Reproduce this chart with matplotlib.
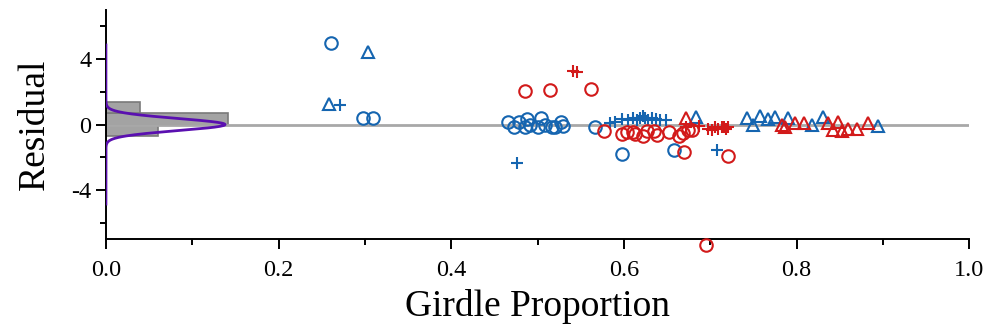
import numpy as np
import matplotlib.pyplot as plt
from matplotlib.ticker import MultipleLocator, FuncFormatter

# girdle proportion / residual pairs, grouped by colour and marker
blue_circle_x = [0.2607, 0.2978, 0.3094, 0.4658, 0.4728, 0.4786, 0.4855, 0.4878, 0.4913,
                 0.5006, 0.5041, 0.5087, 0.5168, 0.5203, 0.5272, 0.5296, 0.5666, 0.5979, 0.6582]
blue_circle_y = [4.98, 0.43, 0.37, 0.18, -0.12, 0.18, -0.18, 0.31, 0.0,
                 -0.18, 0.43, 0.0, -0.18, -0.12, 0.18, -0.06, -0.12, -1.78, -1.54]

blue_tri_x = [0.3036, 0.2584, 0.6837, 0.7428, 0.7497, 0.7578, 0.7671, 0.7752, 0.7903,
              0.8181, 0.8308, 0.8946]
blue_tri_y = [4.43, 1.23, 0.49, 0.43, 0.0, 0.55, 0.31, 0.49, 0.37, 0.0, 0.49, -0.06]

blue_plus_x = [0.2711, 0.4762, 0.7080, 0.5840, 0.5898, 0.5979, 0.6049, 0.6107, 0.6153,
               0.6188, 0.6223, 0.6246, 0.6280, 0.6327, 0.6373, 0.6419, 0.6489]
blue_plus_y = [1.17, -2.34, -1.54, 0.12, 0.18, 0.31, 0.25, 0.37, 0.25,
               0.43, 0.55, 0.37, 0.25, 0.37, 0.31, 0.25, 0.25]

red_circle_x = [0.4855, 0.5145, 0.5620, 0.5771, 0.5979, 0.6037, 0.6107, 0.6130, 0.6223,
                0.6269, 0.6350, 0.6385, 0.6524, 0.6640, 0.6686, 0.6744, 0.6790, 0.6698,
                0.7207, 0.6952]
red_circle_y = [2.03, 2.09, 2.15, -0.37, -0.55, -0.43, -0.43, -0.55, -0.68,
                -0.37, -0.37, -0.62, -0.43, -0.68, -0.49, -0.31, -0.31, -1.66,
                -1.91, -7.38]

red_plus_x = [0.5411, 0.5458, 0.6721, 0.6871, 0.6976, 0.7022, 0.7057, 0.7091, 0.7138,
              0.7161, 0.7184, 0.7207]
red_plus_y = [3.26, 3.20, -0.12, -0.06, -0.25, -0.31, -0.18, -0.25, -0.18, -0.12, -0.25, -0.12]

red_tri_x = [0.6721, 0.7833, 0.7868, 0.7984, 0.8088, 0.8366, 0.8424, 0.8482, 0.8528,
             0.8598, 0.8702, 0.8830]
red_tri_y = [0.43, 0.0, -0.18, 0.12, 0.12, 0.12, -0.31, 0.18, -0.37, -0.25, -0.25, 0.12]

# residual histogram (bin edges and relative frequency) plus fitted normal
hist_edges = [-0.7, 0.0, 0.7, 1.4]
hist_freq = [0.060, 0.141, 0.039]
fit_peak = 0.138
fit_sigma = 0.37
fit_range = 4.86

blue = '#1565b0'
red = '#d21a1a'

plt.rcParams['font.family'] = ['Liberation Serif', 'DejaVu Serif']

fig = plt.figure(figsize=(9.9, 3.33), dpi=100)
ax = fig.add_axes([0.107, 0.282, 0.872, 0.688])

ax.barh(hist_edges[:-1], hist_freq, height=np.diff(hist_edges), align='edge',
        color='#a3a3a3', edgecolor='#7a7a7a', linewidth=1.2, zorder=1)
ax.axhline(0, color='#a8a8a8', lw=2, zorder=2)

yy = np.linspace(-fit_range, fit_range, 400)
ax.plot(fit_peak * np.exp(-yy**2 / (2 * fit_sigma**2)), yy, color='#5a10b0', lw=2, zorder=5)

mk = dict(linestyle='none', markersize=9, markeredgewidth=1.5, clip_on=False, zorder=4)
ax.plot(blue_circle_x, blue_circle_y, marker='o', mfc='none', mec=blue, **mk)
ax.plot(blue_tri_x, blue_tri_y, marker='^', mfc='none', mec=blue, **mk)
ax.plot(blue_plus_x, blue_plus_y, marker='+', color=blue, **mk)
ax.plot(red_circle_x, red_circle_y, marker='o', mfc='none', mec=red, **mk)
ax.plot(red_plus_x, red_plus_y, marker='+', color=red, **mk)
ax.plot(red_tri_x, red_tri_y, marker='^', mfc='none', mec=red, **mk)

ax.set_xlim(0, 1)
ax.set_ylim(-7, 7)
ax.spines['top'].set_visible(False)
ax.spines['right'].set_visible(False)
for s in ('left', 'bottom'):
    ax.spines[s].set_linewidth(1.4)

ax.xaxis.set_major_locator(MultipleLocator(0.2))
ax.xaxis.set_minor_locator(MultipleLocator(0.1))
ax.yaxis.set_major_locator(MultipleLocator(4))
ax.yaxis.set_minor_locator(MultipleLocator(2))
ax.xaxis.set_major_formatter(FuncFormatter(lambda v, p: f'{v:.1f}'))
ax.yaxis.set_major_formatter(FuncFormatter(lambda v, p: f'{v:.0f}'.replace('\u2212', '-')))
ax.tick_params(which='major', direction='out', length=7, width=1.4, labelsize=17.5)
ax.tick_params(axis='x', which='major', pad=8)
ax.tick_params(which='minor', direction='out', length=4, width=1.4)

ax.set_xlabel('Girdle Proportion', fontsize=27, labelpad=6)
ax.set_ylabel('Residual', fontsize=27, labelpad=14)

fig.savefig('out.png', dpi=100)
